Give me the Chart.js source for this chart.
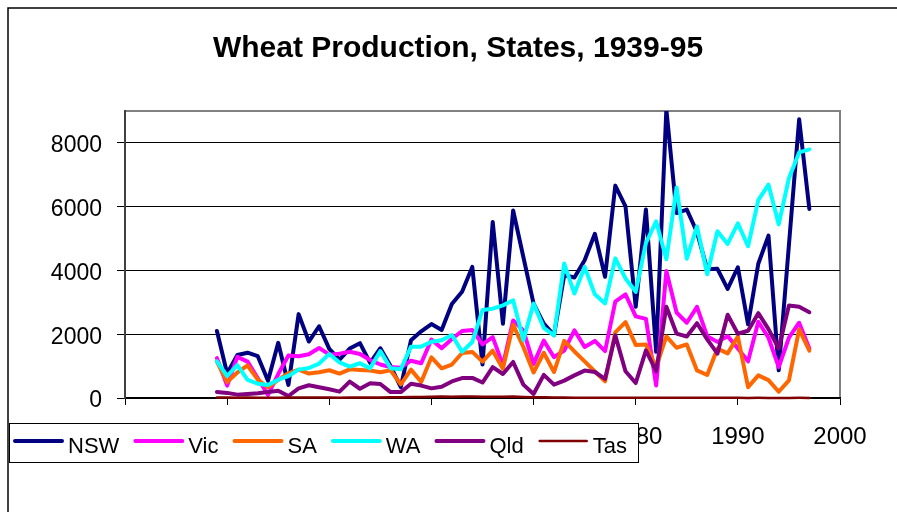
<!DOCTYPE html>
<html>
<head>
<meta charset="utf-8">
<title>Wheat Production, States, 1939-95</title>
<script src="https://cdn.jsdelivr.net/npm/chart.js@4.4.1/dist/chart.umd.min.js"></script>
<style>
  html, body { margin: 0; padding: 0; background: #fff; }
  canvas { display: block; }
</style>
</head>
<body>
<canvas id="wheatchart" width="897" height="512"></canvas>
<script>
// Wheat production by state ('000 t)
const years = [
  1939, 1940, 1941, 1942, 1943, 1944, 1945, 1946, 1947, 1948,
  1949, 1950, 1951, 1952, 1953, 1954, 1955, 1956, 1957, 1958,
  1959, 1960, 1961, 1962, 1963, 1964, 1965, 1966, 1967, 1968,
  1969, 1970, 1971, 1972, 1973, 1974, 1975, 1976, 1977, 1978,
  1979, 1980, 1981, 1982, 1983, 1984, 1985, 1986, 1987, 1988,
  1989, 1990, 1991, 1992, 1993, 1994, 1995, 1996, 1997
]

const nsw = [
  2100, 770, 1350, 1420, 1310, 540, 1730, 410, 2630, 1770,
  2250, 1540, 1200, 1550, 1720, 1100, 1560, 1000, 340, 1810,
  2090, 2320, 2130, 2950, 3330, 4110, 1050, 5520, 2330, 5880,
  4420, 2960, 2330, 1970, 3850, 3780, 4320, 5150, 3800, 6660,
  6010, 2860, 5910, 1450, 9050, 5800, 5910, 5200, 4040, 4050,
  3420, 4100, 2310, 4210, 5090, 870, 4800, 8740, 5930
]
const vic = [
  1250, 390, 1290, 1140, 620, 95, 750, 1330, 1310, 1370,
  1570, 1360, 1390, 1450, 1380, 1190, 1050, 970, 950, 1170,
  1090, 1830, 1560, 1850, 2100, 2130, 1680, 1910, 1030, 2430,
  2120, 1070, 1800, 1280, 1490, 2120, 1600, 1790, 1470, 3020,
  3250, 2560, 2480, 390, 3980, 2680, 2360, 2860, 1940, 1760,
  1940, 1550, 1150, 2390, 1890, 970, 1890, 2360, 1550
]
const sa = [
  1140, 500, 800, 1020, 575, 330, 565, 775, 890, 765,
  810, 870, 765, 900, 880, 860, 810, 870, 425, 890,
  500, 1275, 930, 1050, 1410, 1445, 1140, 1485, 920, 2295,
  1600, 800, 1420, 815, 1790, 1460, 1150, 830, 520, 2060,
  2380, 1665, 1675, 970, 1930, 1575, 1680, 865, 720, 1550,
  1400, 1925, 340, 710, 560, 195, 550, 2150, 1485
]
const wa = [
  1150, 690, 1030, 565, 450, 410, 575, 690, 890, 940,
  1080, 1380, 1115, 985, 1090, 930, 1470, 930, 905, 1610,
  1610, 1765, 1810, 1975, 1450, 1755, 2760, 2800, 2905, 3065,
  1820, 2960, 2200, 1965, 4215, 3275, 4110, 3250, 2965, 4380,
  3750, 3330, 4860, 5540, 4350, 6600, 4370, 5380, 3880, 5230,
  4830, 5475, 4760, 6205, 6690, 5445, 6890, 7700, 7795
]
const qld = [
  190, 160, 105, 126, 147, 185, 230, 63, 304, 400,
  335, 272, 200, 514, 290, 461, 440, 185, 185, 445,
  390, 302, 354, 520, 625, 630, 485, 970, 753, 1130,
  420, 125, 725, 420, 545, 710, 860, 815, 600, 1965,
  840, 470, 1495, 840, 2860, 2020, 1930, 2345, 1840, 1390,
  2610, 2015, 2110, 2660, 2160, 1550, 2900, 2860, 2690
]
const tas = [
  15, 12, 10, 12, 10, 8, 10, 12, 15, 18,
  15, 12, 10, 12, 15, 12, 15, 20, 25, 30,
  35, 40, 45, 42, 48, 45, 40, 38, 42, 45,
  35, 25, 20, 15, 12, 10, 8, 8, 6, 5,
  6, 5, 8, 6, 8, 10, 6, 5, 6, 5,
  4, 5, 3, 4, 3, 2, 3, 4, 3
]

const yTicks = [0, 2000, 4000, 6000, 8000]
const xTicks = [1930, 1940, 1950, 1960, 1970, 1980, 1990, 2000]

const FONT = 'Arial, "Liberation Sans", sans-serif'

function series(label, values, color, width, order) {
  return {
    label: label,
    data: years.map((yr, i) => ({ x: yr, y: values[i] })),
    borderColor: color,
    backgroundColor: color,
    borderWidth: width,
    borderJoinStyle: 'round',
    borderCapStyle: 'round',
    pointRadius: 0,
    tension: 0,
    fill: false,
    order: order,
    // keep the top clipped like Excel, but let lines near zero show fully
    clip: { left: 2, top: 0, right: 2, bottom: 4 }
  }
}

// white page + the Excel chart frame and the grey plot-area box
const chartFrame = {
  id: 'chartFrame',
  beforeDraw(chart) {
    const ctx = chart.ctx
    const { left, top, right, bottom } = chart.chartArea
    ctx.save()
    ctx.fillStyle = '#fff'
    ctx.fillRect(0, 0, chart.width, chart.height)
    ctx.strokeStyle = '#000'
    ctx.lineWidth = 1.5
    ctx.beginPath()
    ctx.moveTo(8, chart.height)
    ctx.lineTo(8, 8)
    ctx.lineTo(chart.width, 8)
    ctx.stroke()
    ctx.strokeStyle = '#808080'
    ctx.lineWidth = 2
    ctx.strokeRect(left, top, right - left, bottom - top)
    ctx.restore()
  }
}

// floating legend box, sitting over the x labels like the original
const floatingLegend = {
  id: 'floatingLegend',
  afterDraw(chart) {
    const ctx = chart.ctx
    ctx.save()
    ctx.fillStyle = '#fff'
    ctx.fillRect(9, 423, 629, 39)
    ctx.strokeStyle = '#000'
    ctx.lineWidth = 1
    ctx.strokeRect(9.5, 423.5, 629, 39)
    ctx.font = '22px ' + FONT
    ctx.textBaseline = 'alphabetic'
    let x = 15
    chart.data.datasets.forEach(ds => {
      ctx.strokeStyle = ds.borderColor
      ctx.lineWidth = ds.borderWidth
      ctx.lineCap = 'round'
      ctx.beginPath()
      ctx.moveTo(x, 441)
      ctx.lineTo(x + 47, 441)
      ctx.stroke()
      ctx.fillStyle = '#000'
      ctx.fillText(ds.label, x + 53, 452.5)
      x += 53 + ctx.measureText(ds.label).width + 16
    })
    ctx.restore()
  }
}

new Chart(document.getElementById('wheatchart'), {
  type: 'line',
  data: {
    datasets: [
      series('NSW', nsw, '#000080', 4, 6),
      series('Vic', vic, '#FF00FF', 4, 5),
      series('SA', sa, '#FF6600', 4, 4),
      series('WA', wa, '#00FFFF', 4, 3),
      series('Qld', qld, '#800080', 4, 2),
      series('Tas', tas, '#800000', 2.5, 1)
    ]
  },
  options: {
    responsive: false,
    animation: false,
    devicePixelRatio: 1,
    layout: { padding: { left: 19, right: 0, top: 0, bottom: 0 } },
    plugins: {
      legend: { display: false },
      tooltip: { enabled: false },
      title: {
        display: true,
        text: 'Wheat Production, States, 1939-95',
        color: '#000',
        font: { family: FONT, size: 30, weight: 'bold', lineHeight: 1.2 },
        padding: { top: 31, bottom: 44 }
      }
    },
    scales: {
      x: {
        type: 'linear',
        min: xTicks[0],
        max: xTicks[xTicks.length - 1],
        afterBuildTicks: axis => { axis.ticks = xTicks.map(v => ({ value: v })) },
        afterFit: axis => { axis.height = 114 },
        grid: { drawOnChartArea: false, drawTicks: true, tickLength: 7, color: '#000', lineWidth: 1 },
        border: { display: true, color: '#000', width: 1.5 },
        ticks: {
          color: '#000',
          font: { family: FONT, size: 24 },
          padding: 18,
          maxRotation: 0,
          autoSkip: false,
          callback: v => String(v)
        }
      },
      y: {
        type: 'linear',
        position: 'left',
        min: 0,
        max: 9000,
        afterBuildTicks: axis => { axis.ticks = yTicks.map(v => ({ value: v })) },
        afterFit: axis => { axis.width = 106 },
        grid: { color: '#000', lineWidth: 1, tickLength: 8, drawTicks: true },
        border: { display: true, color: '#404040', width: 2 },
        ticks: {
          color: '#000',
          font: { family: FONT, size: 23 },
          padding: 15,
          labelOffset: 3,
          callback: v => String(v)
        }
      },
      spacer: {
        type: 'linear',
        position: 'right',
        display: true,
        afterFit: axis => { axis.width = 57 },
        grid: { display: false, drawTicks: false },
        border: { display: false },
        ticks: { display: false }
      }
    }
  },
  plugins: [chartFrame, floatingLegend]
})
</script>
</body>
</html>
